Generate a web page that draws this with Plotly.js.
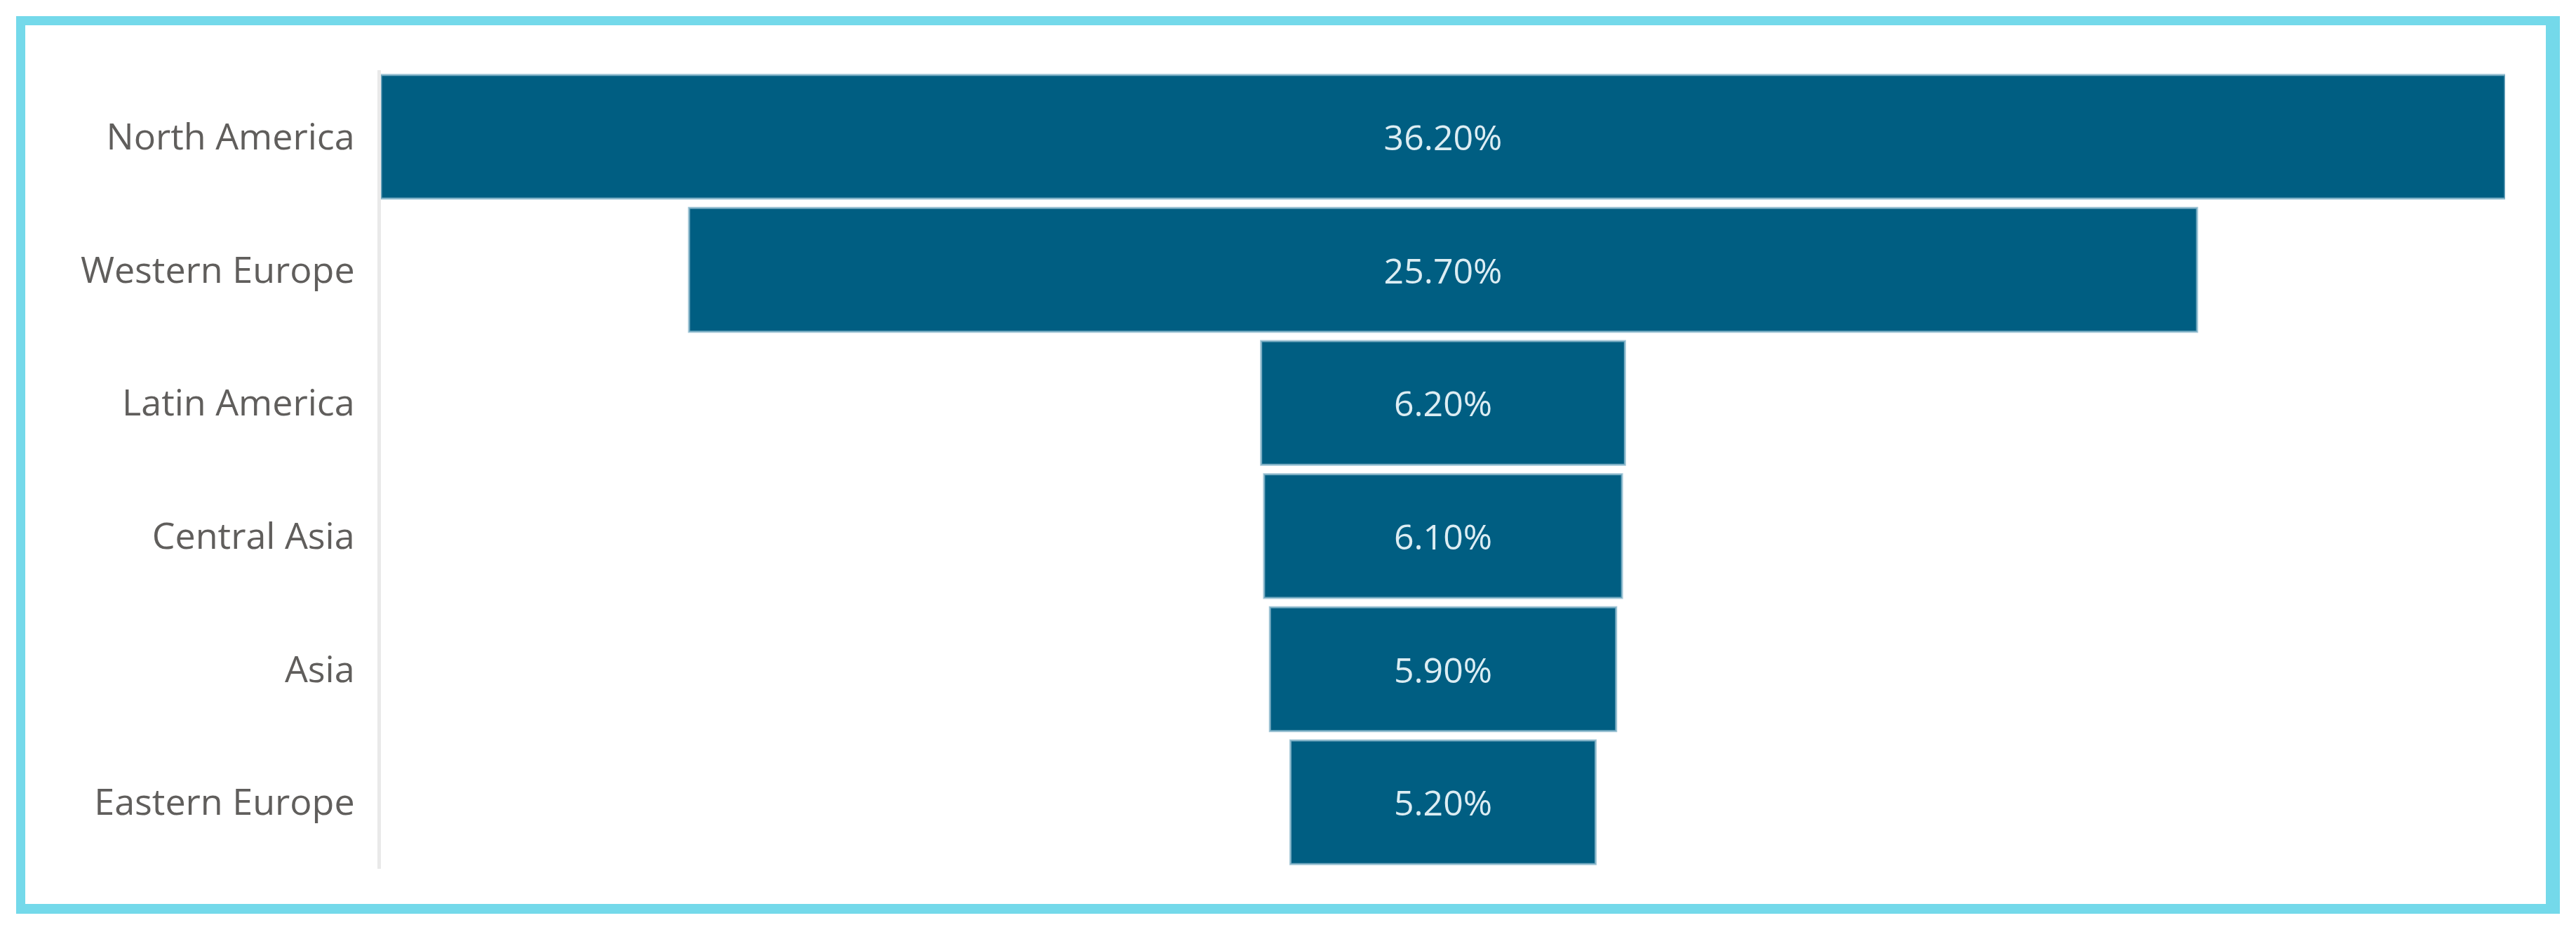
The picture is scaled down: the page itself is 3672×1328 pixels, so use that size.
<!DOCTYPE html>
<html>
<head>
<meta charset="utf-8">
<script src="https://cdn.plot.ly/plotly-3.0.1.min.js"></script>
<style>
  html, body { margin: 0; padding: 0; background: #fff; }
  #wrap { position: relative; width: 3672px; height: 1328px; }
  #chart { width: 3672px; height: 1328px; }
  #frame {
    position: absolute; left: 23px; top: 23px; width: 3626px; height: 1279px;
    box-sizing: border-box; border: solid #74d9ea; border-width: 13px 20px 14px 13px;
    pointer-events: none;
  }
</style>
</head>
<body>
<div id="wrap">
  <div id="chart"></div>
  <div id="frame"></div>
</div>
<script>
const regions = ['North America', 'Western Europe', 'Latin America', 'Central Asia', 'Asia', 'Eastern Europe'];
const shares = [36.2, 25.7, 6.2, 6.1, 5.9, 5.2];

const barColor = '#005e82';
const half = Math.max(...shares) / 2;

Plotly.newPlot('chart', [{
  type: 'funnel',
  orientation: 'h',
  y: regions,
  x: shares,
  texttemplate: '%{x:.2f}%',
  textposition: 'inside',
  insidetextanchor: 'middle',
  textfont: { family: 'Open Sans, sans-serif', size: 50, color: '#dcedf3' },
  marker: { color: barColor, line: { color: 'rgba(140,185,205,0.8)', width: 3 } },
  connector: { visible: false },
  hoverinfo: 'y+x'
}], {
  width: 3672,
  height: 1328,
  paper_bgcolor: '#ffffff',
  plot_bgcolor: '#ffffff',
  margin: { l: 543, r: 101, t: 100, b: 90 },
  font: { family: 'Open Sans, sans-serif', color: '#605e5c' },
  funnelgap: 0.07,
  showlegend: false,
  xaxis: {
    range: [-half, half],
    visible: false,
    showgrid: false,
    zeroline: false
  },
  yaxis: {
    autorange: 'reversed',
    showline: true,
    linecolor: '#e9e9e9',
    linewidth: 5,
    showgrid: false,
    ticks: '',
    ticklabelstandoff: 22,
    tickfont: { size: 52, color: '#605e5c' }
  }
}, { displayModeBar: false, staticPlot: true });
</script>
</body>
</html>
